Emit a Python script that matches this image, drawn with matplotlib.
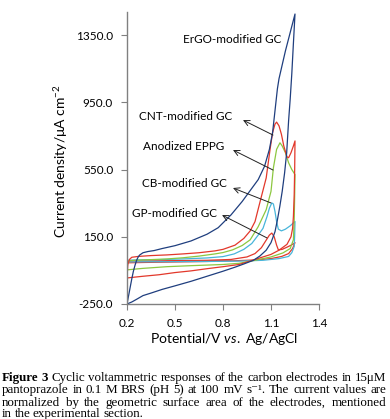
import numpy as np
import matplotlib.pyplot as plt

plt.rcParams['font.family'] = ['Lato', 'DejaVu Sans']
plt.rcParams['mathtext.fontset'] = 'custom'
plt.rcParams['mathtext.rm'] = 'Lato'
plt.rcParams['mathtext.it'] = 'Lato:italic'

# cyclic voltammograms: potential (V vs Ag/AgCl) and current density (uA cm-2),
# forward scan 0.2 -> 1.25 V followed by the reverse scan back to 0.2 V
ergo_e = [0.20, 0.21, 0.22, 0.23, 0.24, 0.25, 0.26, 0.27, 0.28, 0.30, 0.33, 0.37, 0.42, 0.50,
          0.60, 0.70, 0.77, 0.85, 0.92, 0.97, 1.02, 1.06, 1.09, 1.11, 1.125, 1.14, 1.15, 1.19,
          1.22, 1.25,
          1.24, 1.23, 1.22, 1.21, 1.198, 1.185, 1.17, 1.155, 1.14, 1.125, 1.10, 1.07, 1.03,
          0.99, 0.93, 0.875, 0.80, 0.76, 0.69, 0.60, 0.50, 0.42, 0.35, 0.30, 0.26, 0.23, 0.20]
ergo_j = [-250, -200, -150, -100, -55, -20, 10, 30, 42, 55, 62, 68, 80, 97,
          125, 165, 204, 280, 360, 425, 490, 570, 670, 770, 900, 1030, 1090, 1255,
          1365, 1475,
          1300, 1120, 970, 840, 650, 530, 420, 330, 250, 180, 115, 70, 35,
          10, -12, -31, -55, -67, -88, -115, -142, -163, -185, -200, -222, -238, -250]

cnt_e = [0.20, 0.205, 0.215, 0.23, 0.27, 0.35, 0.45, 0.55, 0.65, 0.75, 0.80, 0.875, 0.93,
         0.97, 1.00, 1.035, 1.07, 1.094, 1.11, 1.125, 1.135, 1.15, 1.165, 1.18, 1.20, 1.21,
         1.225, 1.24, 1.25,
         1.248, 1.245, 1.24, 1.235, 1.225, 1.20, 1.15, 1.10, 1.00, 0.90, 0.80, 0.70, 0.60,
         0.50, 0.40, 0.30, 0.25, 0.20]
cnt_j = [-95, -15, 15, 28, 33, 38, 42, 48, 55, 66, 75, 100, 140,
         185, 240, 371, 500, 669, 770, 820, 832, 810, 760, 690, 625, 620,
         650, 690, 720,
         550, 400, 270, 200, 150, 105, 70, 45, 15, -15, -28, -40, -53,
         -63, -76, -85, -90, -95]

eppg_e = [0.20, 0.205, 0.215, 0.25, 0.35, 0.45, 0.55, 0.65, 0.75, 0.80, 0.86, 0.92, 0.97,
          1.02, 1.07, 1.10, 1.115, 1.135, 1.156, 1.17, 1.19, 1.21, 1.23, 1.25,
          1.248, 1.245, 1.24, 1.22, 1.175, 1.10, 1.00, 0.90, 0.80, 0.60, 0.45, 0.30, 0.20]
eppg_j = [-47, 0, 8, 10, 14, 18, 25, 35, 48, 56, 72, 98, 132,
          210, 311, 420, 560, 670, 709, 690, 650, 590, 550, 520,
          400, 250, 132, 80, 54, 30, 10, -8, -15, -22, -28, -38, -47]

cb_e = [0.20, 0.205, 0.25, 0.40, 0.55, 0.70, 0.80, 0.87, 0.93, 0.98, 1.02, 1.05, 1.075,
        1.09, 1.105, 1.115, 1.125, 1.135, 1.146, 1.165, 1.19, 1.22, 1.25,
        1.248, 1.245, 1.23, 1.21, 1.15, 1.05, 0.90, 0.70, 0.50, 0.30, 0.20]
cb_j = [0, 10, 12, 14, 18, 24, 32, 48, 75, 110, 160, 200, 270,
        320, 351, 345, 300, 240, 195, 185, 195, 215, 241,
        160, 92, 55, 33, 20, 10, 5, 3, 2, 1, 0]

gp_e = [0.20, 0.21, 0.30, 0.50, 0.70, 0.85, 0.95, 1.00, 1.04, 1.07, 1.09, 1.105, 1.12,
        1.135, 1.146, 1.17, 1.20, 1.23, 1.25,
        1.235, 1.21, 1.167, 1.10, 1.02, 0.90, 0.70, 0.50, 0.30, 0.20]
gp_j = [-5, 5, 6, 8, 10, 15, 30, 50, 85, 130, 160, 172, 150,
        100, 72, 75, 88, 102, 115,
        80, 50, 33, 20, 13, 8, 3, 0, -3, -5]

labels = ["ErGO-modified GC", "CNT-modified GC", "Anodized EPPG", "CB-modified GC", "GP-modified GC"]
yticks = [-250, 150, 550, 950, 1350]
xticks = [0.2, 0.5, 0.8, 1.1, 1.4]

fig = plt.figure(figsize=(3.9, 4.19), dpi=100)
ax = fig.add_axes([127/390, 1 - 304/419, 192/390, 292/419])

ax.plot(gp_e, gp_j, color='#E2382B', lw=0.9)
ax.plot(cb_e, cb_j, color='#47B5DA', lw=0.9)
ax.plot(eppg_e, eppg_j, color='#8CC740', lw=0.9)
ax.plot(cnt_e, cnt_j, color='#E2382B', lw=0.9)
ax.plot(ergo_e, ergo_j, color='#1F3E7E', lw=0.9)

ax.set_xlim(0.2, 1.4)
ax.set_ylim(-250, 1487)
ax.set_xticks(xticks)
ax.set_xticklabels([f"{v:.1f}" for v in xticks])
ax.set_yticks(yticks)
ax.set_yticklabels([f"{v:.1f}" for v in yticks])
ax.tick_params(direction='out', length=4, width=0.8, color='#808080', labelsize=8.5, pad=6)
for s in ['top', 'right']:
    ax.spines[s].set_visible(False)
for s in ['left', 'bottom']:
    ax.spines[s].set_color('#808080')
    ax.spines[s].set_linewidth(1.0)

ax.set_ylabel("Current density/\u03bcA cm$^{-2}$", fontsize=10)
ax.yaxis.set_label_coords(-0.297, 0.49)
ax.set_xlabel(r"Potential/V $\mathit{vs.}$ Ag/AgCl", fontsize=10)
ax.xaxis.set_label_coords(0.505, -0.094)

# labels and arrows (arrow heads sit next to the text)
ax.text(0.856, 1326, labels[0], fontsize=8.5, ha='center', va='center')
ax.text(0.569, 868, labels[1], fontsize=8.5, ha='center', va='center')
ax.text(0.556, 684, labels[2], fontsize=8.5, ha='center', va='center')
ax.text(0.556, 464, labels[3], fontsize=8.5, ha='center', va='center')
ax.text(0.494, 291, labels[4], fontsize=8.5, ha='center', va='center')
arrow = dict(arrowstyle='->', color='#222222', lw=0.7, shrinkA=0, shrinkB=0)
ax.annotate('', xy=(0.925, 844), xytext=(1.1125, 755), arrowprops=arrow)
ax.annotate('', xy=(0.8625, 666), xytext=(1.1125, 547), arrowprops=arrow)
ax.annotate('', xy=(0.8625, 440), xytext=(1.10, 351), arrowprops=arrow)
ax.annotate('', xy=(0.794, 279), xytext=(1.075, 143), arrowprops=arrow)

# caption, justified word by word
serif = ['Liberation Serif', 'DejaVu Serif']
caption = [
    [("Figure", 'bold'), ("3", 'bold'), ("Cyclic", 'normal'), ("voltammetric", 'normal'),
     ("responses", 'normal'), ("of", 'normal'), ("the", 'normal'), ("carbon", 'normal'),
     ("electrodes", 'normal'), ("in", 'normal'), ("15\u03bcM", 'normal')],
    [(w, 'normal') for w in "pantoprazole in 0.1 M BRS (pH 5) at 100 mV s\u207b\u00b9. The current values are".split()],
    [(w, 'normal') for w in "normalized by the geometric surface area of the electrodes, mentioned".split()],
    [(w, 'normal') for w in "in the experimental section.".split()],
]
line_y = [377.5, 390, 402.5, 414]
fig.canvas.draw()
r = fig.canvas.get_renderer()
left, right = 2, 386
for i, words in enumerate(caption):
    ts = [fig.text(0, 1 - line_y[i]/419, w, fontsize=9.4, family=serif, weight=wt, va='center')
          for w, wt in words]
    ws = [t.get_window_extent(r).width for t in ts]
    if i < len(caption) - 1:
        gap = (right - left - sum(ws)) / (len(ws) - 1)
    else:
        gap = 2.6
    x = left
    for t, w in zip(ts, ws):
        t.set_x(x / 390)
        x += w + gap

fig.savefig('out.png', dpi=100)
